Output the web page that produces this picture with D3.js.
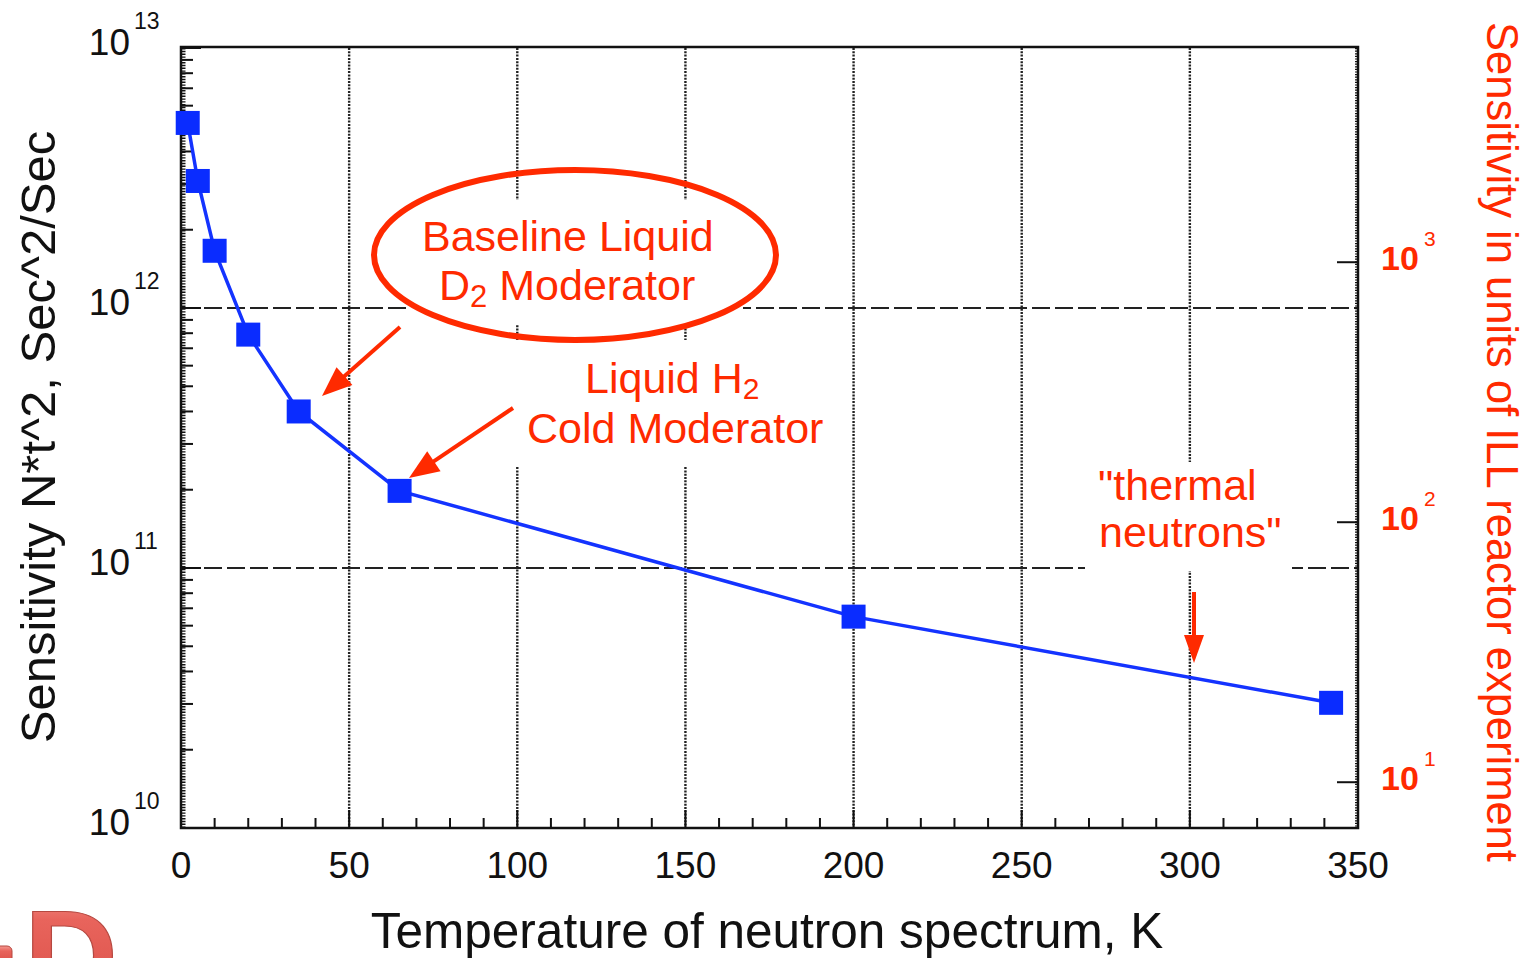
<!DOCTYPE html>
<html>
<head>
<meta charset="utf-8">
<script src="https://cdn.jsdelivr.net/npm/d3@7"></script>
<style>
  html, body { margin: 0; padding: 0; background: #fff; overflow: hidden; }
  svg { display: block; font-family: "Liberation Sans", Arial, sans-serif; }
</style>
</head>
<body>
<svg id="chart" width="1525" height="958"></svg>
<script>
// ---- data ----
const temperatures = [2, 5, 10, 20, 35, 65, 200, 342];
const sensitivity = [5.15e12, 3.08e12, 1.66e12, 7.9e11, 4.0e11, 1.98e11, 6.5e10, 3.03e10];
const xTicks = [0, 50, 100, 150, 200, 250, 300, 350];
const xMinorTicks = [10, 20, 30, 40, 60, 70, 80, 90, 110, 120, 130, 140, 160, 170, 180, 190, 210, 220, 230, 240, 260, 270, 280, 290, 310, 320, 330, 340];
const yDecades = [1e10, 1e11, 1e12, 1e13];
const yDecadeExp = ["10", "11", "12", "13"];
const rightDecades = [10, 100, 1000];
const rightDecadeExp = ["1", "2", "3"];
const illRatio = 1.5e9; // left units per ILL unit

const W = 1525, H = 958;
const L = 181, R = 1358, T = 48, B = 828;
const red = "#ff2a00";
const blue = "#1433ff";

const svg = d3.select("#chart");
const x = d3.scaleLinear().domain([0, 350]).range([L, R]);
const y = d3.scaleLog().domain([1e10, 1e13]).range([B, T]);
const yR = d3.scaleLog().domain([1e10 / illRatio, 1e13 / illRatio]).range([B, T]);

// ---- grid ----
const grid = svg.append("g");
grid.selectAll("line.v").data(xTicks.filter(d => d > 0 && d < 350)).join("line")
  .attr("x1", d => x(d)).attr("x2", d => x(d)).attr("y1", T).attr("y2", B)
  .attr("stroke", "#222").attr("stroke-width", 2.4).attr("stroke-dasharray", "2,1.3");
grid.selectAll("line.h").data([1e11, 1e12]).join("line")
  .attr("x1", L).attr("x2", R).attr("y1", d => y(d)).attr("y2", d => y(d))
  .attr("stroke", "#222").attr("stroke-width", 2).attr("stroke-dasharray", "18,5");

// ---- white label boxes that break the grid ----
const boxes = [[407, 200, 336, 125], [512, 340, 328, 127], [1085, 462, 207, 109]];
svg.append("g").selectAll("rect").data(boxes).join("rect")
  .attr("x", d => d[0]).attr("y", d => d[1]).attr("width", d => d[2]).attr("height", d => d[3])
  .attr("fill", "#fff");

// ---- axes ----
const ax = svg.append("g").attr("stroke", "#111");
ax.append("rect").attr("x", L).attr("y", T - 1).attr("width", R - L).attr("height", B - T + 1)
  .attr("fill", "none").attr("stroke-width", 2.5);
ax.append("line").attr("x1", L + 2.5).attr("x2", L + 2.5).attr("y1", T).attr("y2", B)
  .attr("stroke-width", 4).attr("stroke-dasharray", "1.4,1.4");
ax.append("line").attr("x1", R - 1.5).attr("x2", R - 1.5).attr("y1", T).attr("y2", B)
  .attr("stroke-width", 3).attr("stroke-dasharray", "1.2,1.4");

const yMinor = [];
yDecades.slice(0, 3).forEach(d => { for (let k = 2; k <= 9; k++) yMinor.push(d * k); });
ax.selectAll("line.ym").data(yMinor).join("line")
  .attr("x1", L).attr("x2", L + 12).attr("y1", d => y(d)).attr("y2", d => y(d)).attr("stroke-width", 2);
ax.selectAll("line.yM").data(yDecades).join("line")
  .attr("x1", L).attr("x2", L + 20).attr("y1", d => y(d)).attr("y2", d => y(d)).attr("stroke-width", 2);

ax.selectAll("line.xm").data(xMinorTicks).join("line")
  .attr("x1", d => x(d)).attr("x2", d => x(d)).attr("y1", B).attr("y2", B - 10).attr("stroke-width", 2);
ax.selectAll("line.xM").data(xTicks).join("line")
  .attr("x1", d => x(d)).attr("x2", d => x(d)).attr("y1", B).attr("y2", B - 18).attr("stroke-width", 2);

ax.selectAll("line.r").data(rightDecades).join("line")
  .attr("x1", R).attr("x2", R - 21).attr("y1", d => yR(d)).attr("y2", d => yR(d)).attr("stroke-width", 2);

// x tick labels
svg.append("g").selectAll("text").data(xTicks).join("text")
  .attr("x", d => x(d)).attr("y", 878).attr("text-anchor", "middle")
  .attr("font-size", 37).attr("fill", "#111").text(d => d);

// y tick labels
const yl = svg.append("g").attr("fill", "#111");
yDecades.forEach((d, i) => {
  yl.append("text").attr("x", 130).attr("y", y(d) + 7).attr("text-anchor", "end")
    .attr("font-size", 37).text("10");
  yl.append("text").attr("x", 134).attr("y", y(d) - 19)
    .attr("font-size", 23).text(yDecadeExp[i]);
});

// right tick labels
const rl = svg.append("g").attr("fill", red).attr("font-weight", "bold");
rightDecades.forEach((d, i) => {
  rl.append("text").attr("x", 1381).attr("y", yR(d) + 8)
    .attr("font-size", 34).text("10");
  rl.append("text").attr("x", 1424).attr("y", yR(d) - 16)
    .attr("font-size", 21).attr("font-weight", "normal").text(rightDecadeExp[i]);
});

// axis titles
svg.append("text").attr("transform", "translate(55,437) rotate(-90)")
  .attr("text-anchor", "middle").attr("font-size", 49).attr("fill", "#111")
  .text("Sensitivity N*t^2, Sec^2/Sec");
svg.append("text").attr("x", 767).attr("y", 948)
  .attr("text-anchor", "middle").attr("font-size", 49.5).attr("fill", "#111")
  .text("Temperature of neutron spectrum, K");
svg.append("text").attr("transform", "translate(1487,442) rotate(90)")
  .attr("text-anchor", "middle").attr("font-size", 43.5).attr("fill", red)
  .text("Sensitivity in units of ILL reactor experiment");

// ---- data line and markers ----
const pts = temperatures.map((t, i) => [t, sensitivity[i]]);
svg.append("path").datum(pts)
  .attr("d", d3.line().x(d => x(d[0])).y(d => y(d[1])))
  .attr("fill", "none").attr("stroke", blue).attr("stroke-width", 3.5);
svg.append("g").selectAll("rect").data(pts).join("rect")
  .attr("x", d => x(d[0]) - 12).attr("y", d => y(d[1]) - 12)
  .attr("width", 24).attr("height", 24).attr("fill", "#0a2cff");

// ---- annotations ----
const ann = svg.append("g").attr("fill", red).attr("font-size", 43);
svg.append("ellipse").attr("cx", 575).attr("cy", 255).attr("rx", 201).attr("ry", 85)
  .attr("fill", "none").attr("stroke", red).attr("stroke-width", 6);

ann.append("text").attr("x", 422).attr("y", 251).text("Baseline Liquid");
const t2 = ann.append("text").attr("x", 439).attr("y", 300);
t2.append("tspan").text("D");
t2.append("tspan").attr("font-size", 31).attr("dy", 7).text("2");
t2.append("tspan").attr("dy", -7).text(" Moderator");

const t3 = ann.append("text").attr("x", 585).attr("y", 393);
t3.append("tspan").text("Liquid H");
t3.append("tspan").attr("font-size", 30).attr("dy", 6).text("2");
ann.append("text").attr("x", 527).attr("y", 443).text("Cold Moderator");

ann.append("text").attr("x", 1098).attr("y", 500).text("\"thermal");
ann.append("text").attr("x", 1099).attr("y", 547).text("neutrons\"");

function arrow(x1, y1, x2, y2, headLen, headHalf) {
  const dx = x2 - x1, dy = y2 - y1, len = Math.hypot(dx, dy);
  const ux = dx / len, uy = dy / len;
  const bx = x2 - ux * headLen, by = y2 - uy * headLen;
  svg.append("line").attr("x1", x1).attr("y1", y1).attr("x2", bx + ux * 2).attr("y2", by + uy * 2)
    .attr("stroke", red).attr("stroke-width", 4);
  svg.append("path")
    .attr("d", `M${x2},${y2}L${bx - uy * headHalf},${by + ux * headHalf}L${bx + uy * headHalf},${by - ux * headHalf}Z`)
    .attr("fill", red);
}
arrow(400, 327, 322, 396, 30, 12);
arrow(513, 408, 409, 478, 30, 12);
arrow(1194, 592, 1194, 663, 28, 10);

// ---- logo fragment at bottom-left ----
const defs = svg.append("defs");
const g = defs.append("linearGradient").attr("id", "logo").attr("x1", 0).attr("y1", 0).attr("x2", 0).attr("y2", 1);
g.append("stop").attr("offset", "0%").attr("stop-color", "#f59a92");
g.append("stop").attr("offset", "25%").attr("stop-color", "#e8645c");
g.append("stop").attr("offset", "100%").attr("stop-color", "#d84a42");
svg.append("text").attr("x", 24).attr("y", 1001).attr("font-size", 130).attr("font-weight", "bold")
  .attr("fill", "url(#logo)").attr("stroke", "#b54840").attr("stroke-width", 1.2).text("D");
svg.append("rect").attr("x", -6).attr("y", 946).attr("width", 18).attr("height", 20).attr("rx", 5)
  .attr("fill", "url(#logo)").attr("stroke", "#b54840").attr("stroke-width", 1);
</script>
</body>
</html>
